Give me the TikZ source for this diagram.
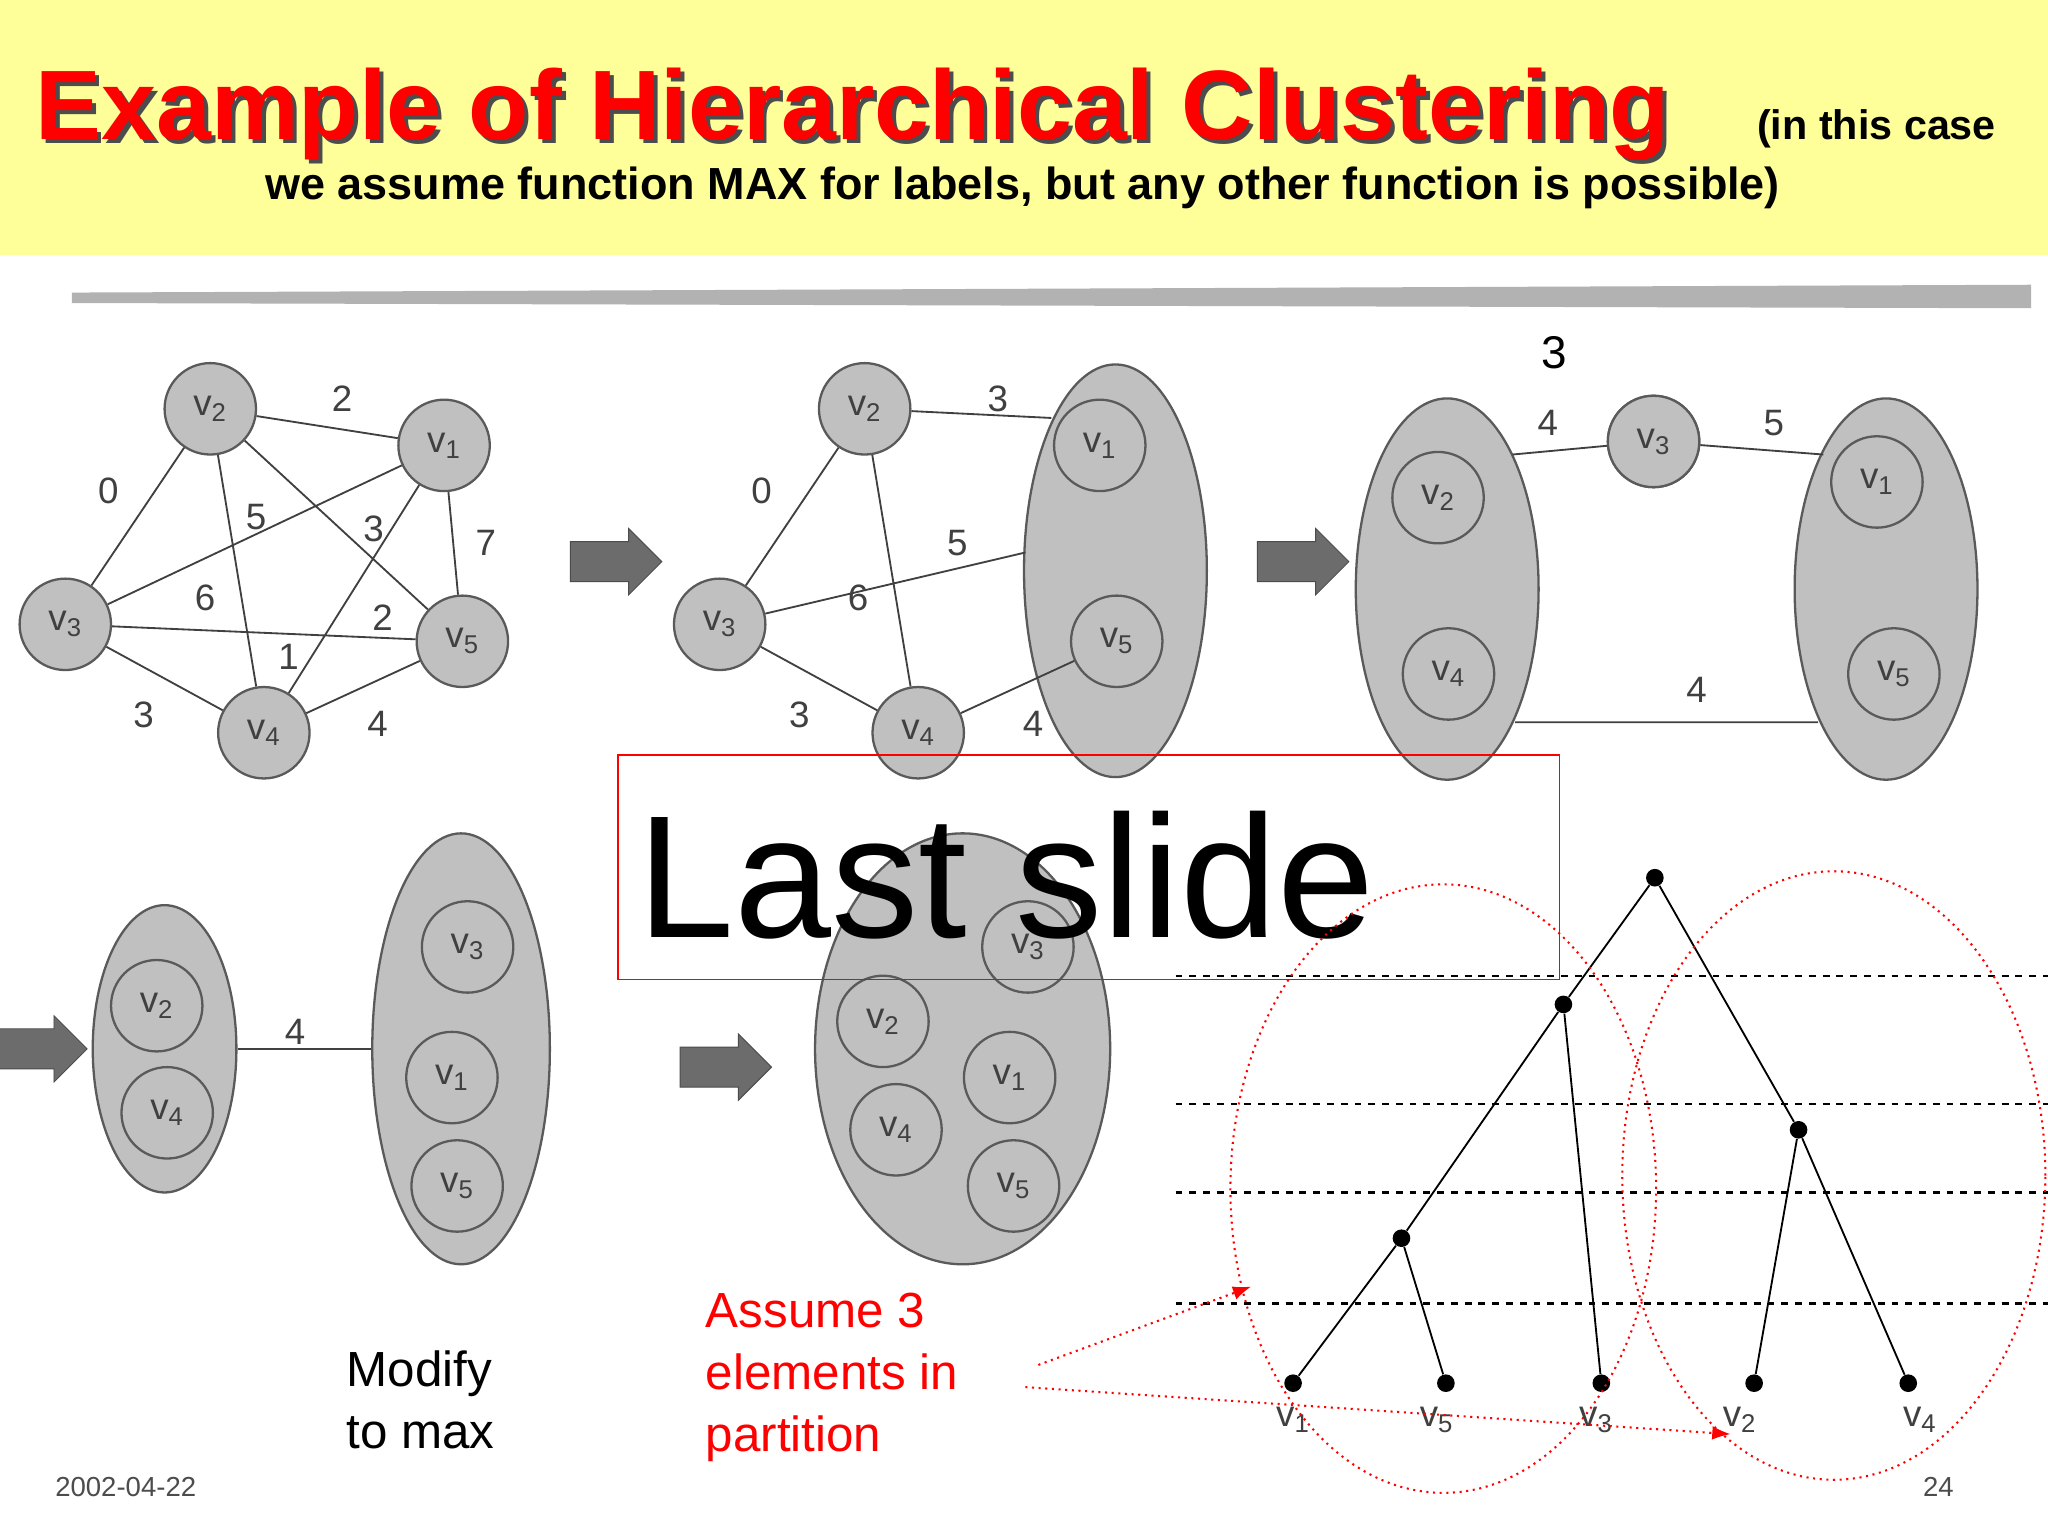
\documentclass[tikz,border=0pt]{standalone}
\usepackage{fontspec}
\setmainfont{Liberation Sans}
\usetikzlibrary{shapes.geometric,shapes.arrows,arrows.meta}
\definecolor{band}{RGB}{255,255,153}
\definecolor{nodegray}{RGB}{192,192,192}
\definecolor{edgegray}{RGB}{90,90,90}
\definecolor{titlered}{RGB}{255,0,0}
\tikzset{
 vtx/.style={circle,fill=nodegray,draw=edgegray,line width=1pt,minimum size=1.4cm,inner sep=0pt,font=\fontsize{16}{16}\selectfont,text=black!75},
 grp/.style={ellipse,fill=nodegray,draw=edgegray,line width=1pt,inner sep=0pt},
 ed/.style={draw=black!75,line width=0.8pt},
 elab/.style={font=\fontsize{16}{16}\selectfont,text=black!75,inner sep=0pt},
 barrow/.style={single arrow,fill=gray!85!black,draw=gray!60!black,minimum height=1.4cm,inner xsep=0pt,inner ysep=0.3cm,single arrow head extend=0.2cm,shape border rotate=0},
 levelline/.style={dashed,line width=1pt,black},
 dot/.style={circle,fill=black,inner sep=0pt,minimum size=0.27cm},
 reddot/.style={red,dotted,line width=0.9pt},
}
\begin{document}
\begin{tikzpicture}[x=0.02cm,y=-0.02cm]
\useasboundingbox (0,0) rectangle (1568,1176);
\fill[white] (0,0) rectangle (1568,1176);
\fill[band] (0,0) rectangle (1568,195);
\fill[gray!60] (55,224) -- (1555,218) -- (1555,236) -- (55,232) -- cycle;
% title
\node[anchor=base west,inner sep=0pt,text=black!70,font=\fontsize{43}{43}\bfseries\selectfont] at (30,110) {Example of Hierarchical Clustering};
\node[anchor=base west,inner sep=0pt,text=titlered,font=\fontsize{43}{43}\bfseries\selectfont] (title) at (27,107) {Example of Hierarchical Clustering};
\node[anchor=base west,inner sep=0pt,font=\fontsize{18}{18}\bfseries\selectfont] (t2) at (1345,107) {(in this case};
\node[anchor=base,inner sep=0pt,font=\fontsize{19.6}{20}\bfseries\selectfont] (t3) at (783,153) {we assume function MAX for labels, but any other function is possible)};
% graph 1
\node[vtx] (a2) at (161,313) {v\textsubscript{2}};
\node[vtx] (a1) at (340,341) {v\textsubscript{1}};
\node[vtx] (a3) at (50,478) {v\textsubscript{3}};
\node[vtx] (a5) at (354,491) {v\textsubscript{5}};
\node[vtx] (a4) at (202,561) {v\textsubscript{4}};
\draw[ed] (a2)--(a1) (a2)--(a3) (a3)--(a1) (a2)--(a5) (a1)--(a5) (a2)--(a4) (a1)--(a4) (a3)--(a5) (a3)--(a4) (a4)--(a5);
\node[elab] (l1) at (262,305) {2};\node[elab] (l2) at (83,376) {0};\node[elab] (l3) at (196,396) {5};
\node[elab] (l4) at (286,405) {3};\node[elab] (l5) at (372,416) {7};\node[elab] (l6) at (157,458) {6};
\node[elab] (l7) at (293,473) {2};\node[elab] (l8) at (221,503) {1};\node[elab] (l9) at (110,547) {3};\node[elab] (l10) at (289,554) {4};
\node[barrow] (ar1) at (464,430) {};
% graph 2
\node[grp,minimum width=2.8cm,minimum height=6.32cm] (b15) at (854,437) {};
\node[vtx] (b1) at (842,341) {v\textsubscript{1}};
\node[vtx] (b5) at (855,491) {v\textsubscript{5}};
\node[vtx] (b2) at (662,313) {v\textsubscript{2}};
\node[vtx] (b3) at (551,478) {v\textsubscript{3}};
\node[vtx] (b4) at (703,561) {v\textsubscript{4}};
\coordinate (b15a) at (805,320); \coordinate (b15b) at (785,423);
\draw[ed] (b2)--(b15a) (b2)--(b3) (b3)--(b15b) (b2)--(b4) (b3)--(b4) (b4)--(b5);
\node[elab] (m1) at (764,305) {3};\node[elab] (m2) at (583,376) {0};\node[elab] (m3) at (733,416) {5};
\node[elab] (m4) at (657,458) {6};\node[elab] (m5) at (612,547) {3};\node[elab] (m6) at (791,554) {4};
\node[barrow] (ar2) at (990,430) {};
% graph 3
\node[grp,minimum width=2.8cm,minimum height=5.84cm] (c24) at (1108,451) {};
\node[grp,minimum width=2.8cm,minimum height=5.84cm] (c15) at (1444,451) {};
\node[vtx] (c2) at (1101,381) {v\textsubscript{2}};
\node[vtx] (c4) at (1109,516) {v\textsubscript{4}};
\node[vtx] (c1) at (1437,369) {v\textsubscript{1}};
\node[vtx] (c5) at (1450,516) {v\textsubscript{5}};
\node[vtx] (c3) at (1266,338) {v\textsubscript{3}};
\coordinate (c24a) at (1158,348); \coordinate (c15a) at (1396,348);
\coordinate (c24b) at (1160,553); \coordinate (c15b) at (1392,553);
\draw[ed] (c24a)--(c3)--(c15a) (c24b)--(c15b);
\node[vtx] at (c3) {v\textsubscript{3}};
\node[elab,font=\fontsize{20}{20}\selectfont,text=black] (n3) at (1190,270) {3};
\node[elab] (n1) at (1185,324) {4};\node[elab] (n2) at (1358,324) {5};\node[elab] (n4) at (1299,528) {4};
% row 2
\node[barrow] (ar3) at (24,803) {};
\node[grp,minimum width=2.2cm,minimum height=4.4cm] (d24) at (126,803) {};
\node[grp,minimum width=2.72cm,minimum height=6.6cm] (d315) at (353,803) {};
\node[vtx] (d2) at (120,770) {v\textsubscript{2}};
\node[vtx] (d4) at (128,852) {v\textsubscript{4}};
\node[vtx] (d3) at (358,725) {v\textsubscript{3}};
\node[vtx] (d1) at (346,825) {v\textsubscript{1}};
\node[vtx] (d5) at (350,908) {v\textsubscript{5}};
\draw[ed] (d24.east)--(d315.west);
\node[elab] (o1) at (226,790) {4};
\node[barrow] (ar4) at (548,817) {};
\node[grp,minimum width=4.52cm,minimum height=6.6cm] (eall) at (737,803) {};
\node[vtx] (e3) at (787,725) {v\textsubscript{3}};
\node[vtx] (e2) at (676,782) {v\textsubscript{2}};
\node[vtx] (e1) at (773,825) {v\textsubscript{1}};
\node[vtx] (e4) at (686,865) {v\textsubscript{4}};
\node[vtx] (e5) at (776,908) {v\textsubscript{5}};
% last slide
\node[draw=red,line width=0.8pt,minimum width=14.42cm,minimum height=3.44cm,inner sep=0pt] (box) at (833.5,664) {};
\node[anchor=base west,inner sep=0pt,font=\fontsize{76}{76}\selectfont] (ls) at (488,718) {Last slide};
% dendrogram
\foreach \y/\n in {747/h1,845/h2,913/h3,998/h4}{\coordinate (\n a) at (900,\y);\coordinate (\n b) at (1568,\y);\draw[levelline] (\n a)--(\n b);}
\node[dot] (r) at (1267,672) {};
\node[dot] (pa) at (1197,769) {};
\node[dot] (pb) at (1377,865) {};
\node[dot] (pc) at (1073,948) {};
\node[dot] (q1) at (990,1059) {};
\node[dot] (q5) at (1107,1059) {};
\node[dot] (q3) at (1226,1059) {};
\node[dot] (q2) at (1343,1059) {};
\node[dot] (q4) at (1461,1059) {};
\draw[ed,black] (r)--(pa) (r)--(pb) (pa)--(pc) (pa)--(q3) (pc)--(q1) (pc)--(q5) (pb)--(q2) (pb)--(q4);
\node[elab] (k1) at (990,1087) {v\textsubscript{1}};
\node[elab] (k5) at (1100,1087) {v\textsubscript{5}};
\node[elab] (k3) at (1222,1087) {v\textsubscript{3}};
\node[elab] (k2) at (1332,1087) {v\textsubscript{2}};
\node[elab] (k4) at (1470,1087) {v\textsubscript{4}};
\node[draw=red,dotted,line width=0.9pt,ellipse,minimum width=6.52cm,minimum height=9.32cm] (el1) at (1105,910) {};
\node[draw=red,dotted,line width=0.9pt,ellipse,minimum width=6.48cm,minimum height=9.32cm] (el2) at (1404,900) {};
% red text
\node[anchor=north west,align=left,text=red,inner sep=0pt,font=\fontsize{21.5}{27}\selectfont] (as) at (540,990) {Assume 3\\elements in\\partition};
\coordinate (s1) at (795,1045); \coordinate (t1) at (958,985);
\coordinate (s2) at (785,1062); \coordinate (t2e) at (1325,1098);
\draw[reddot,-{Latex[length=8pt,width=6pt]}] (s1)--(t1);
\draw[reddot,-{Latex[length=8pt,width=6pt]}] (s2)--(t2e);
\node[anchor=north west,align=left,inner sep=0pt,font=\fontsize{21.5}{27}\selectfont] (mm) at (265,1034) {Modify\\to max};
\node[anchor=base west,inner sep=0pt,text=black!70,font=\fontsize{12}{12}\selectfont] (dt) at (42,1146) {2002-04-22};
\node[anchor=base west,inner sep=0pt,text=black!70,font=\fontsize{12}{12}\selectfont] (pg) at (1472,1146) {24};
\end{tikzpicture}
\end{document}
